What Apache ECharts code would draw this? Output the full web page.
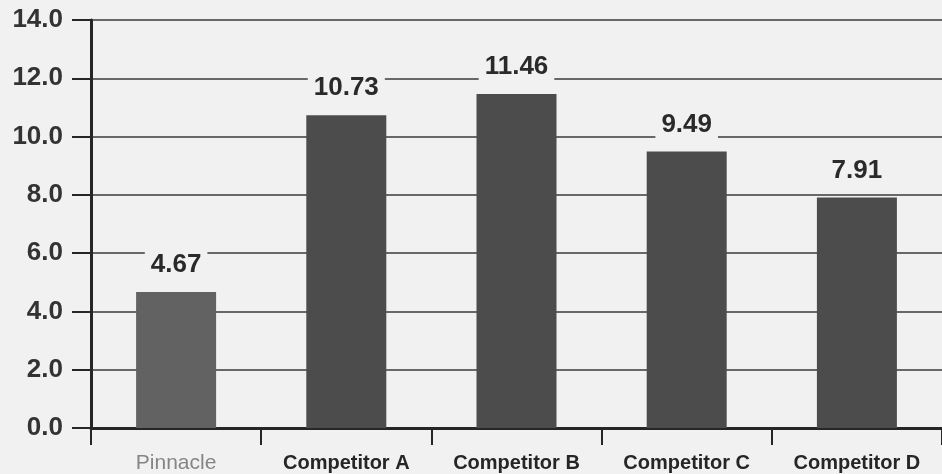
<!DOCTYPE html>
<html>
<head>
<meta charset="utf-8">
<script src="https://cdn.jsdelivr.net/npm/echarts@6/dist/echarts.min.js"></script>
<style>
  html, body { margin: 0; padding: 0; background: #f1f1f1; }
  #chart { width: 942px; height: 474px; }
</style>
</head>
<body>
<div id="chart"></div>
<script>
// Average values per provider
const categories = ['Pinnacle', 'Competitor A', 'Competitor B', 'Competitor C', 'Competitor D'];
const values = [4.67, 10.73, 11.46, 9.49, 7.91];
const yTicks = { min: 0, max: 14, interval: 2 };

const bgColor = '#f1f1f1';
const ink = '#262626';
const font = 'Liberation Sans, Arial, sans-serif';

const chart = echarts.init(document.getElementById('chart'), null, { renderer: 'canvas' });

chart.setOption({
  backgroundColor: bgColor,
  animation: false,
  grid: { left: 91, right: 0, top: 20, bottom: 44, containLabel: false },
  xAxis: {
    type: 'category',
    data: categories,
    axisLine: { show: true, lineStyle: { color: ink, width: 3 } },
    axisTick: { show: true, interval: 0, alignWithLabel: false, length: 17, lineStyle: { color: ink, width: 2 } },
    axisLabel: {
      interval: 0,
      hideOverlap: false,
      margin: 25,
      fontFamily: font,
      fontSize: 20,
      fontWeight: 'bold',
      color: ink,
      formatter: function (v) {
        return v === 'Pinnacle' ? '{dim|' + v + '}' : v;
      },
      rich: {
        dim: {
          fontFamily: font,
          fontSize: 21,
          fontWeight: 'normal',
          color: '#858585'
        }
      }
    },
    splitLine: { show: false }
  },
  yAxis: {
    type: 'value',
    min: yTicks.min,
    max: yTicks.max,
    interval: yTicks.interval,
    axisLine: { show: true, lineStyle: { color: ink, width: 3 } },
    axisTick: { show: true, length: 19, lineStyle: { color: ink, width: 2 } },
    axisLabel: {
      margin: 28,
      fontFamily: font,
      fontSize: 26,
      fontWeight: 'bold',
      color: '#333333',
      formatter: function (v) { return v.toFixed(1); }
    },
    splitLine: { show: true, lineStyle: { color: '#3a3a3a', width: 1.5 } }
  },
  series: [{
    type: 'bar',
    data: values.map(function (v, i) {
      return {
        value: v,
        itemStyle: { color: i === 0 ? '#626262' : '#4c4c4c' }
      };
    }),
    barWidth: 80,
    label: {
      show: true,
      position: 'top',
      distance: 12,
      fontFamily: font,
      fontSize: 26,
      fontWeight: 'bold',
      color: '#2a2a2a',
      backgroundColor: bgColor,
      padding: [2, 6, 2, 6],
      formatter: function (p) { return p.value.toFixed(2); }
    }
  }]
});
</script>
</body>
</html>
